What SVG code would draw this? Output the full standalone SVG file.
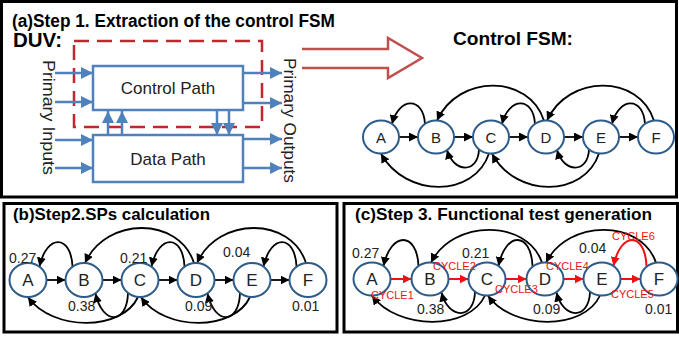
<svg xmlns="http://www.w3.org/2000/svg" width="679" height="337" viewBox="0 0 679 337">
<defs>
<marker id="ah" markerUnits="userSpaceOnUse" markerWidth="10" markerHeight="9" refX="9" refY="4.5" orient="auto"><path d="M0,0 L9,4.5 L0,9 z" fill="#000"/></marker>
<marker id="ahr" markerUnits="userSpaceOnUse" markerWidth="10" markerHeight="9" refX="9" refY="4.5" orient="auto"><path d="M0,0 L9,4.5 L0,9 z" fill="#EE1111"/></marker>
<marker id="ahb" markerUnits="userSpaceOnUse" markerWidth="13" markerHeight="13" refX="12" refY="6" orient="auto"><path d="M0,0 L12,6 L0,12 z" fill="#4F81BD"/></marker>
</defs>
<style>
.frame{fill:none;stroke:#000;stroke-width:3}
.title{font-family:"Liberation Sans",Arial,sans-serif;font-weight:bold;fill:#000}
.lbl{font-family:"Liberation Sans",Arial,sans-serif;fill:#222}
.box{fill:#fff;stroke:#4F81BD;stroke-width:2.5}
.bl{fill:none;stroke:#4F81BD;stroke-width:2.5;marker-end:url(#ahb)}
.st{fill:#fff;stroke:#2E5C8A;stroke-width:2}
.e{fill:none;stroke:#000;stroke-width:1.8;marker-end:url(#ah)}
.er{fill:none;stroke:#EE1111;stroke-width:2;marker-end:url(#ahr)}
.cyc{font-family:"Liberation Sans",Arial,sans-serif;font-size:11px;fill:#EE1111}
.num{font-family:"Liberation Sans",Arial,sans-serif;font-size:14px;fill:#222}
.sl{font-family:"Liberation Sans",Arial,sans-serif;text-anchor:middle;fill:#222}
</style>

<!-- frames -->
<rect class="frame" x="1.5" y="1.5" width="675" height="195.5"/>
<rect class="frame" x="4" y="203.5" width="333" height="128.5"/>
<rect class="frame" x="344" y="203.5" width="333.5" height="128.5"/>

<!-- Panel (a) -->
<text class="title" x="12" y="27" font-size="18" textLength="323" lengthAdjust="spacingAndGlyphs">(a)Step 1. Extraction of the control FSM</text>
<text class="title" x="13" y="47" font-size="20" textLength="49" lengthAdjust="spacingAndGlyphs">DUV:</text>
<rect x="74" y="41" width="188" height="86" fill="none" stroke="#C0282D" stroke-width="2.5" stroke-dasharray="15,8"/>

<g id="duv-control-path">
<rect class="box" x="93" y="66" width="150" height="44"/>
<text class="lbl" x="168" y="94" font-size="17" text-anchor="middle">Control Path</text>
</g>
<g id="duv-data-path">
<rect class="box" x="93" y="135" width="150" height="47"/>
<text class="lbl" x="168" y="165" font-size="17" text-anchor="middle">Data Path</text>
</g>

<g id="duv-connectors">
<line class="bl" x1="55" y1="73" x2="93" y2="73"/>
<line class="bl" x1="55" y1="102" x2="93" y2="102"/>
<line class="bl" x1="55" y1="140" x2="93" y2="140"/>
<line class="bl" x1="55" y1="168" x2="93" y2="168"/>
<line class="bl" x1="243" y1="73" x2="282" y2="73"/>
<line class="bl" x1="243" y1="103" x2="282" y2="103"/>
<line class="bl" x1="243" y1="139" x2="282" y2="139"/>
<line class="bl" x1="243" y1="168" x2="282" y2="168"/>
<line class="bl" x1="108" y1="135" x2="108" y2="111"/>
<line class="bl" x1="122" y1="135" x2="122" y2="111"/>
<line class="bl" x1="217" y1="110" x2="217" y2="135"/>
<line class="bl" x1="229" y1="110" x2="229" y2="135"/>
</g>
<text class="lbl" transform="translate(43,117.5) rotate(90)" font-size="17" text-anchor="middle" textLength="115" lengthAdjust="spacingAndGlyphs">Primary Inputs</text>
<text class="lbl" transform="translate(284,120.5) rotate(90)" font-size="17" text-anchor="middle" textLength="125" lengthAdjust="spacingAndGlyphs">Primary Outputs</text>

<polyline points="302,49 388,49 388,38 422,58 388,78 388,68 302,68" fill="none" stroke="#C0504D" stroke-width="2.5" stroke-linejoin="miter"/>

<text class="title" x="453" y="45" font-size="19" textLength="120" lengthAdjust="spacingAndGlyphs">Control FSM:</text>

<g id="fsm1-edges">
<line class="e" x1="399" y1="137" x2="418" y2="137"/>
<line class="e" x1="454" y1="137" x2="473" y2="137"/>
<line class="e" x1="509" y1="137" x2="528" y2="137"/>
<line class="e" x1="564" y1="137" x2="583" y2="137"/>
<line class="e" x1="619" y1="137" x2="638" y2="137"/>
<path class="e" d="M425,124 C423.5,96.5 399,96.5 392,124"/>
<path class="e" d="M535,124 C533.5,96.5 509,96.5 502,124"/>
<path class="e" d="M645,124 C643.5,96.5 619,96.5 612,124"/>
<path class="e" d="M544,120.7 C529.5,74 458,74 437,120.6"/>
<path class="e" d="M654,120.7 C639.5,74 568,74 547,120.6"/>
<path class="e" d="M479,149.5 C478,173.5 454,173.5 447,150"/>
<path class="e" d="M589,149.5 C588,173.5 564,173.5 557,150"/>
<path class="e" d="M489,153.5 C474,198 406,198 381,153.7"/>
<path class="e" d="M599,153.5 C584,198 516,198 492,153.7"/>
</g>
<g id="fsm1-A"><ellipse class="st" cx="381" cy="137" rx="18" ry="16.5"/><text class="sl" x="381" y="142.5" font-size="15">A</text></g>
<g id="fsm1-B"><ellipse class="st" cx="436" cy="137" rx="18" ry="16.5"/><text class="sl" x="436" y="142.5" font-size="15">B</text></g>
<g id="fsm1-C"><ellipse class="st" cx="491" cy="137" rx="18" ry="16.5"/><text class="sl" x="491" y="142.5" font-size="15">C</text></g>
<g id="fsm1-D"><ellipse class="st" cx="546" cy="137" rx="18" ry="16.5"/><text class="sl" x="546" y="142.5" font-size="15">D</text></g>
<g id="fsm1-E"><ellipse class="st" cx="601" cy="137" rx="18" ry="16.5"/><text class="sl" x="601" y="142.5" font-size="15">E</text></g>
<g id="fsm1-F"><ellipse class="st" cx="656" cy="137" rx="18" ry="16.5"/><text class="sl" x="656" y="142.5" font-size="15">F</text></g>

<!-- Panel (b) -->
<text class="title" x="13" y="220" font-size="17" textLength="197" lengthAdjust="spacingAndGlyphs">(b)Step2.SPs calculation</text>
<g id="fsm2-edges">
<line class="e" x1="46.5" y1="280" x2="65.5" y2="280"/>
<line class="e" x1="102.5" y1="280" x2="121.5" y2="280"/>
<line class="e" x1="158.5" y1="280" x2="177.5" y2="280"/>
<line class="e" x1="214.5" y1="280" x2="233.5" y2="280"/>
<line class="e" x1="270.5" y1="280" x2="289.5" y2="280"/>
<path class="e" d="M72.5,266.5 C71,234 46.5,234 39.5,266.5"/>
<path class="e" d="M184.5,266.5 C183,234 158.5,234 151.5,266.5"/>
<path class="e" d="M296.5,266.5 C295,234 270.5,234 263.5,266.5"/>
<path class="e" d="M194,263.1 C179,216.3 106,216.3 85,263.1"/>
<path class="e" d="M306,263.1 C291,216.3 218,216.3 197,263.1"/>
<path class="e" d="M128,293 C127,325 102.5,325 95.5,293.5"/>
<path class="e" d="M240,293 C239,325 214.5,325 207.5,293.5"/>
<path class="e" d="M138,297 C122,331.5 53,331.5 28,297.2"/>
<path class="e" d="M250,297 C234,331.5 165,331.5 141,297.2"/>
</g>
<g id="fsm2-A"><ellipse class="st" cx="28" cy="280" rx="18.5" ry="17"/><text class="sl" x="28" y="286" font-size="17">A</text></g>
<g id="fsm2-B"><ellipse class="st" cx="84" cy="280" rx="18.5" ry="17"/><text class="sl" x="84" y="286" font-size="17">B</text></g>
<g id="fsm2-C"><ellipse class="st" cx="140" cy="280" rx="18.5" ry="17"/><text class="sl" x="140" y="286" font-size="17">C</text></g>
<g id="fsm2-D"><ellipse class="st" cx="196" cy="280" rx="18.5" ry="17"/><text class="sl" x="196" y="286" font-size="17">D</text></g>
<g id="fsm2-E"><ellipse class="st" cx="252" cy="280" rx="18.5" ry="17"/><text class="sl" x="252" y="286" font-size="17">E</text></g>
<g id="fsm2-F"><ellipse class="st" cx="308" cy="280" rx="18.5" ry="17"/><text class="sl" x="308" y="286" font-size="17">F</text></g>
<text class="num" x="9" y="263">0.27</text>
<text class="num" x="120" y="263">0.21</text>
<text class="num" x="223" y="257">0.04</text>
<text class="num" x="68" y="311">0.38</text>
<text class="num" x="185" y="311">0.09</text>
<text class="num" x="292" y="311">0.01</text>

<!-- Panel (c) -->
<text class="title" x="355" y="220" font-size="17" textLength="297" lengthAdjust="spacingAndGlyphs">(c)Step 3. Functional test generation</text>
<g id="fsm3-edges">
<line class="er" x1="390.5" y1="279" x2="411.5" y2="279"/>
<line class="er" x1="448.5" y1="279" x2="468.5" y2="279"/>
<line class="er" x1="505.5" y1="279" x2="526.5" y2="279"/>
<line class="er" x1="563.5" y1="279" x2="583.5" y2="279"/>
<line class="er" x1="620.5" y1="279" x2="640.5" y2="279"/>
<path class="e" d="M418.5,266 C417,231.3 391,231.3 383.5,266"/>
<path class="e" d="M532.5,266 C531,231.3 505.5,231.3 498.5,266"/>
<path class="er" d="M646.5,266 C645,231.3 620.5,231.3 613.5,266"/>
<path class="e" d="M542,262.6 C527,219 453,219 431,262.6"/>
<path class="e" d="M656,262.6 C641,219 568,219 546,262.6"/>
<path class="e" d="M475,292 C474,320 448.5,320 441.5,292.5"/>
<path class="e" d="M590,292 C589,320 563.5,320 556.5,292.5"/>
<path class="e" d="M485,295.5 C469,330.5 398,330.5 372,295.7"/>
<path class="e" d="M600,295.5 C584,330.5 513,330.5 488,295.7"/>
</g>
<g id="fsm3-A"><ellipse class="st" cx="372" cy="279" rx="18.5" ry="16.5"/><text class="sl" x="372" y="285" font-size="17">A</text></g>
<g id="fsm3-B"><ellipse class="st" cx="430" cy="279" rx="18.5" ry="16.5"/><text class="sl" x="430" y="285" font-size="17">B</text></g>
<g id="fsm3-C"><ellipse class="st" cx="487" cy="279" rx="18.5" ry="16.5"/><text class="sl" x="487" y="285" font-size="17">C</text></g>
<g id="fsm3-D"><ellipse class="st" cx="545" cy="279" rx="18.5" ry="16.5"/><text class="sl" x="545" y="285" font-size="17">D</text></g>
<g id="fsm3-E"><ellipse class="st" cx="602" cy="279" rx="18.5" ry="16.5"/><text class="sl" x="602" y="285" font-size="17">E</text></g>
<g id="fsm3-F"><ellipse class="st" cx="659" cy="279" rx="18.5" ry="16.5"/><text class="sl" x="659" y="285" font-size="17">F</text></g>
<text class="num" x="352" y="258">0.27</text>
<text class="num" x="462" y="258">0.21</text>
<text class="num" x="579" y="253">0.04</text>
<text class="num" x="417" y="314">0.38</text>
<text class="num" x="533" y="314">0.09</text>
<text class="num" x="645" y="314">0.01</text>
<text class="cyc" x="371" y="299">CYCLE1</text>
<text class="cyc" x="433" y="270">CYCLE2</text>
<text class="cyc" x="495" y="293">CYCLE3</text>
<text class="cyc" x="546" y="270">CYCLE4</text>
<text class="cyc" x="611" y="298">CYCLE5</text>
<text class="cyc" x="612" y="240">CYCLE6</text>
</svg>
